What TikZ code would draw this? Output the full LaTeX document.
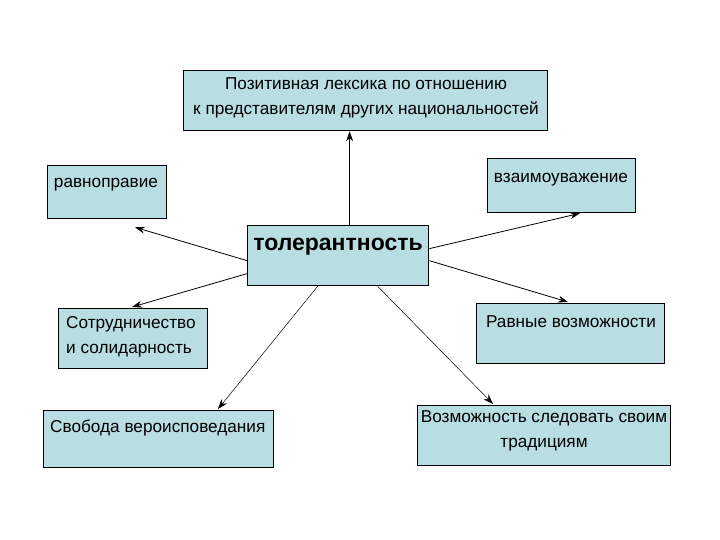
\documentclass[tikz,border=0pt]{standalone}
\usepackage{fontspec}
\setmainfont{Liberation Sans}
\usetikzlibrary{arrows.meta}
\definecolor{boxfill}{RGB}{184,221,226}
\tikzset{
  box/.style={draw=black, line width=1.3pt, fill=boxfill, anchor=north west, inner sep=0pt},
  txt/.style={inner sep=0pt, font=\fontsize{17.2}{25}\selectfont},
  link/.style={line width=0.8pt, -{Stealth[length=10pt,width=7pt]}},
  thinlink/.style={line width=0.5pt, -{Stealth[length=10pt,width=7pt]}}
}
\begin{document}
\begin{tikzpicture}[x=1pt,y=-1pt]
\useasboundingbox (0,0) rectangle (720,540);
% boxes
\node[box, minimum width=364pt, minimum height=60pt] (top) at (183,70) {};
\node[box, minimum width=119pt, minimum height=53pt] (rav) at (47,165) {};
\node[box, minimum width=181pt, minimum height=60pt] (tol) at (247,225) {};
\node[box, minimum width=148pt, minimum height=54pt] (vza) at (487,158) {};
\node[box, minimum width=149pt, minimum height=60pt] (sot) at (58,308) {};
\node[box, minimum width=188pt, minimum height=60pt] (rvv) at (476,303) {};
\node[box, minimum width=230pt, minimum height=57pt] (svo) at (43,410) {};
\node[box, minimum width=253pt, minimum height=60pt] (voz) at (417,405) {};
% texts
\node[txt, align=center] (ttop) at (366,97.5) {Позитивная лексика по отношению\\к представителям других национальностей};
\node[txt] (trav) at (106,185) {равноправие};
\node[txt] (tvza) at (561,180) {взаимоуважение};
\node[inner sep=0pt, font=\fontsize{23}{25}\selectfont\bfseries] (ttol) at (338,247) {толерантность};
\node[txt, align=left, anchor=west] (tsot) at (66,336.5) {Сотрудничество\\и солидарность};
\node[txt] (trvv) at (571,322) {Равные возможности};
\node[txt, anchor=west] (tsvo) at (50,428) {Свобода вероисповедания};
\node[txt, align=center] (tvoz) at (544,430.5) {Возможность следовать своим\\традициям};
% connectors
\draw[link] ([xshift=11.5pt]tol.north) -- ([xshift=-16pt]top.south);
\draw[link] ([yshift=-5pt]tol.west) -- ([xshift=88pt,yshift=-8pt]rav.south west);
\draw[link] ([yshift=-18pt]tol.west) -- ([xshift=74pt,yshift=1pt]sot.north west);
\draw[link] ([yshift=7pt]tol.east) -- ([xshift=93pt]vza.south west);
\draw[link] ([yshift=-5pt]tol.east) -- ([xshift=92pt,yshift=1pt]rvv.north west);
\draw[thinlink] ([xshift=-20.5pt]tol.south) -- ([xshift=175pt,yshift=1pt]svo.north west);
\draw[thinlink] ([xshift=39.5pt]tol.south) -- ([xshift=76pt,yshift=1pt]voz.north west);
\end{tikzpicture}
\end{document}
